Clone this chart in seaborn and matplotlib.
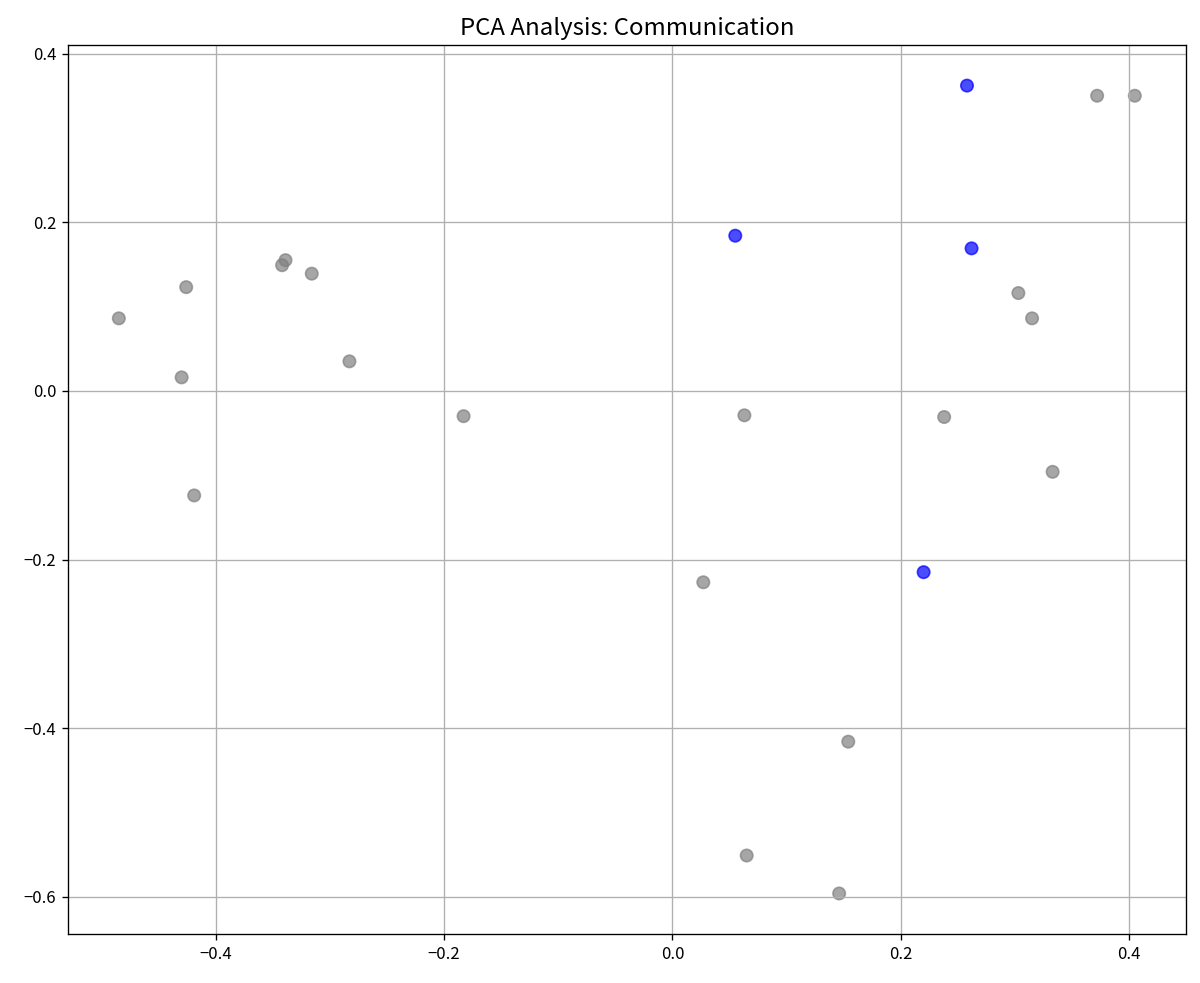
import numpy as np
import pandas as pd
import seaborn as sns
import matplotlib
matplotlib.use("Agg")
import matplotlib.pyplot as plt

# PCA coordinates
pc1 = [0.258, 0.372, 0.405, 0.055, 0.262, 0.303, 0.315, 0.063, 0.238, 0.333,
       0.027, 0.220, 0.154, 0.065, 0.146,
       -0.485, -0.426, -0.430, -0.419, -0.339, -0.342, -0.316, -0.283, -0.183]
pc2 = [0.362, 0.350, 0.350, 0.184, 0.169, 0.116, 0.086, -0.029, -0.031, -0.096,
       -0.227, -0.215, -0.416, -0.551, -0.596,
       0.086, 0.123, 0.016, -0.124, 0.155, 0.149, 0.139, 0.035, -0.030]
highlight = [True, False, False, True, True, False, False, False, False, False,
             False, True, False, False, False,
             False, False, False, False, False, False, False, False, False]

df = pd.DataFrame({'PC1': pc1, 'PC2': pc2,
                   'group': ['selected' if h else 'other' for h in highlight]})

plt.style.use('default')
plt.rcParams['font.family'] = ['Noto Sans CJK JP', 'DejaVu Sans']

fig, ax = plt.subplots(figsize=(10, 983 / 120), dpi=120)
sns.scatterplot(data=df, x='PC1', y='PC2', hue='group',
                palette={'other': 'gray', 'selected': 'blue'},
                alpha=0.7, s=55, edgecolor='face', linewidth=1.0,
                legend=False, ax=ax)
ax.set_xlabel('')
ax.set_ylabel('')
ax.set_title('PCA Analysis: Communication', fontsize=14.4)
ax.grid(True)
fig.subplots_adjust(left=0.0567, right=0.988, top=0.954, bottom=0.05)
fig.savefig('out.png', dpi=120)
